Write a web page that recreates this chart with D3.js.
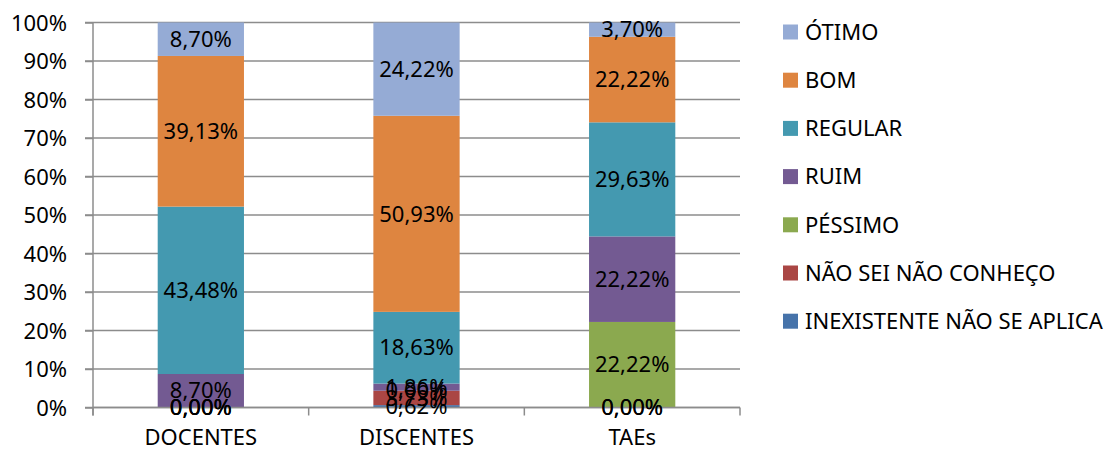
<!DOCTYPE html>
<html><head><meta charset="utf-8">
<script src="https://cdn.jsdelivr.net/npm/d3@7"></script>
<style>body{margin:0;background:#fff}svg{display:block}text{font-family:"Noto Sans",sans-serif}</style>
</head><body><svg id="c" width="1115" height="450"></svg>
<script>
const categories = ["DOCENTES", "DISCENTES", "TAEs"];
const seriesNames = ["INEXISTENTE NÃO SE APLICA", "NÃO SEI NÃO CONHEÇO", "PÉSSIMO", "RUIM", "REGULAR", "BOM", "ÓTIMO"];
const inexistente = [0.00, 0.62, 0.00];
const naoSei = [0.00, 3.73, 0.00];
const pessimo = [0.00, 0.00, 22.22];
const ruim = [8.70, 1.86, 22.22];
const regular = [43.48, 18.63, 29.63];
const bom = [39.13, 50.93, 22.22];
const otimo = [8.70, 24.22, 3.70];
const yTicks = [0, 10, 20, 30, 40, 50, 60, 70, 80, 90, 100];
const colors = ["#4673AA", "#AA4644", "#8BA94F", "#735A92", "#4499B0", "#DE8540", "#95ABD5"];

const values = [inexistente, naoSei, pessimo, ruim, regular, bom, otimo];
const rows = categories.map((c, i) => { const r = {cat: c}; seriesNames.forEach((s, k) => r[s] = values[k][i]); return r; });
const stacked = d3.stack().keys(seriesNames)(rows);

const svg = d3.select("#c");
const L = 93, R = 740, T = 22.5, B = 407.5;
const FS = 22;
const x = d3.scaleBand().domain(categories).range([L, R]).paddingInner(0.6).paddingOuter(0.3);
const y = d3.scaleLinear().domain([0, 100]).range([B, T]);
const fmt = v => v.toFixed(2).replace(".", ",") + "%";

// gridlines
svg.append("g").selectAll("line").data(yTicks).join("line")
  .attr("x1", L - 8).attr("x2", R).attr("y1", d => y(d)).attr("y2", d => y(d))
  .attr("stroke", "#8c8c8c").attr("stroke-width", 1.5);

// bars
const gS = svg.append("g").selectAll("g").data(stacked).join("g").attr("fill", (d, i) => colors[i]);
gS.selectAll("rect").data(d => d).join("rect")
  .attr("x", d => x(d.data.cat)).attr("width", x.bandwidth())
  .attr("y", d => y(d[1])).attr("height", d => y(d[0]) - y(d[1]));

// axes
const yAxis = svg.append("g").attr("transform", `translate(${L},0)`).call(d3.axisLeft(y).tickValues(yTicks).tickSize(8).tickFormat(d => d + "%"));
yAxis.select(".domain").attr("stroke", "#8c8c8c").attr("stroke-width", 1.5).attr("d", `M0,${T}V${B + 8}`);
yAxis.selectAll(".tick line").attr("stroke", "#8c8c8c").attr("stroke-width", 1.5);
yAxis.selectAll(".tick text").attr("font-size", FS).attr("fill", "#000").attr("x", -26).attr("dy", "0.35em");

const xAxis = svg.append("g").attr("transform", `translate(0,${B})`).call(d3.axisBottom(x).tickSize(0));
xAxis.select(".domain").remove();
xAxis.selectAll(".tick text").attr("font-size", FS).attr("fill", "#000").attr("y", 22).attr("dy", "0.71em");
const step = x.step();
const bounds = [L, L + step, L + 2 * step, R];
svg.append("g").selectAll("line").data(bounds).join("line")
  .attr("x1", d => d).attr("x2", d => d).attr("y1", B).attr("y2", B + 8)
  .attr("stroke", "#8c8c8c").attr("stroke-width", 1.5);
svg.append("line").attr("x1", L).attr("x2", R).attr("y1", B).attr("y2", B).attr("stroke", "#8c8c8c").attr("stroke-width", 1.5);

// labels
const lab = svg.append("g");
stacked.forEach(s => {
  lab.selectAll(null).data(s).join("text")
    .attr("x", d => x(d.data.cat) + x.bandwidth() / 2)
    .attr("y", d => y((d[0] + d[1]) / 2)).attr("dy", "0.35em")
    .attr("text-anchor", "middle").attr("font-size", FS).attr("fill", "#000")
    .text(d => fmt(d[1] - d[0]));
});

// legend
const lg = svg.append("g").attr("transform", "translate(783,32)");
const items = seriesNames.map((s, i) => ({s, c: colors[i]})).reverse();
const li = lg.selectAll("g").data(items).join("g").attr("transform", (d, i) => `translate(0,${i * 48.2})`);
li.append("rect").attr("x", 0).attr("y", -7.5).attr("width", 15).attr("height", 15).attr("fill", d => d.c);
li.append("text").attr("x", 22).attr("dy", "0.35em").attr("font-size", FS).attr("fill", "#000").text(d => d.s);
</script></body></html>
